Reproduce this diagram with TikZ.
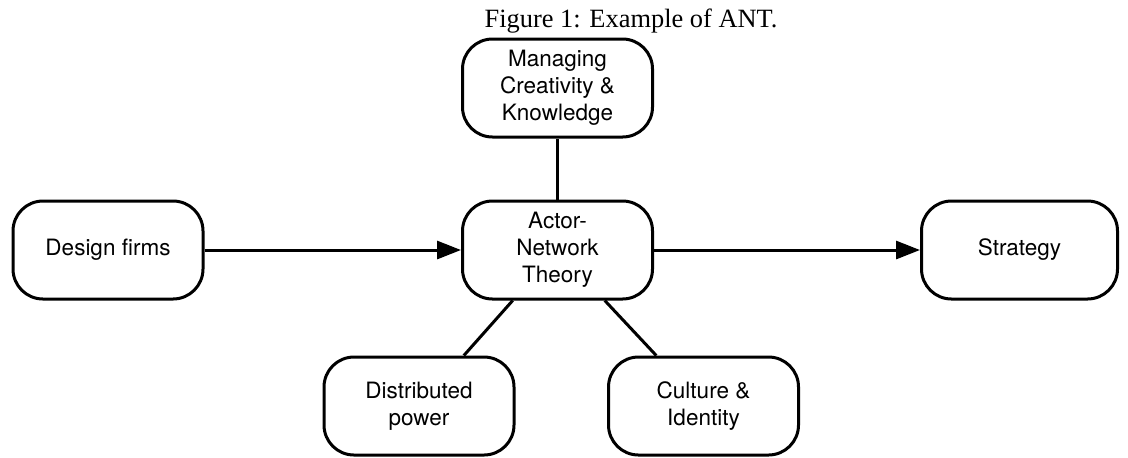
\documentclass[tikz,border=0pt]{standalone}
\usepackage{fontspec}
\setmainfont{Liberation Serif}
\newfontfamily\boxfont{TeX Gyre Heros}
\usetikzlibrary{arrows.meta,positioning}

\begin{document}
\begin{tikzpicture}
[->,>={Triangle[length=12pt,width=9pt]}, on grid, line width=1.5pt,
every node/.style={font=\boxfont\fontsize{11.25}{13.5}\selectfont},
concept/.style={draw, rounded corners=15pt, minimum width=95pt, minimum height=49pt, align=center, inner sep=2pt}
]
  \useasboundingbox (0,0) rectangle (564pt,-228.5pt);
  \node[font=\rmfamily\fontsize{13.2}{16}\selectfont, anchor=base] (title) at (315.5pt,-13.5pt) {Figure 1: Example of ANT.};
  \node[concept] (ant) at (278.75pt,-125pt) {Actor-\\Network\\Theory};
  \node[concept] (mck) [above=81pt of ant] {Managing\\Creativity \&\\Knowledge};
  \node[concept] (design) [left=224.75pt of ant] {Design firms};
  \node[concept, minimum width=98pt] (strategy) [right=231pt of ant] {Strategy};
  \node[concept] (dist) [below left=78pt and 69.25pt of ant] {Distributed\\power};
  \node[concept] (culture) [below right=78pt and 73pt of ant] {Culture \&\\Identity};

  \path
	(design) edge (ant)
	(ant) edge (strategy)
	(ant) edge[-] (mck)
	(ant) edge[-] (dist)
	(ant) edge[-] (culture)
    ;
\end{tikzpicture}
\end{document}
